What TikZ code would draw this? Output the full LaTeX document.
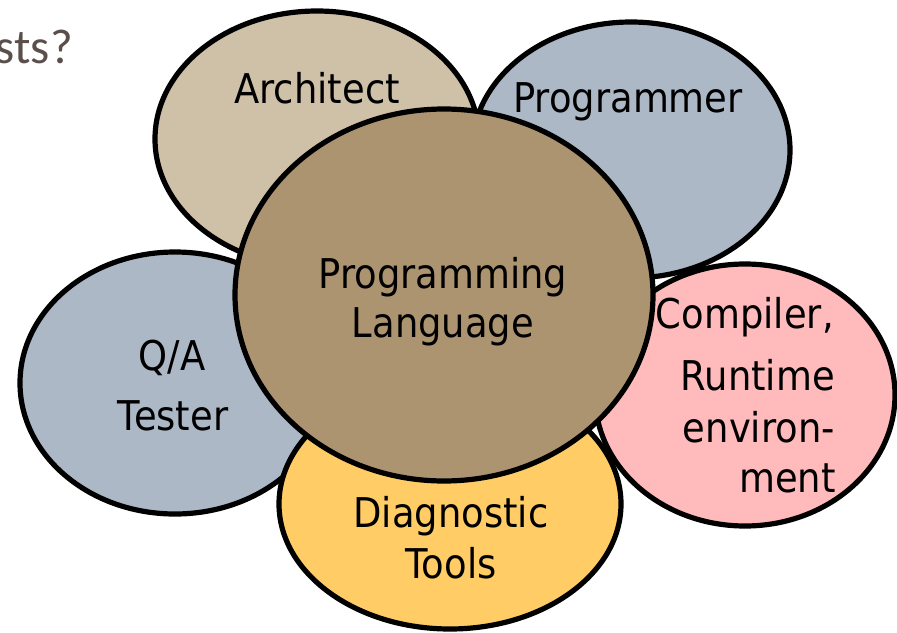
\documentclass[tikz,border=0pt]{standalone}
\usepackage{fontspec}
\usetikzlibrary{shapes.geometric}
\newfontfamily\labfont[FakeStretch=0.9]{DejaVu Sans}
\newfontfamily\titfont{Carlito}
\definecolor{archc}{HTML}{CFC0A8}
\definecolor{progc}{HTML}{ADB8C6}
\definecolor{plc}{HTML}{AD9470}
\definecolor{compc}{HTML}{FFBBBB}
\definecolor{diagc}{HTML}{FFCC66}
\definecolor{titc}{HTML}{5A4F4B}
\tikzset{
  blob/.style={ellipse, draw=black, line width=5.2pt, inner sep=0pt},
  lab/.style={font=\labfont\fontsize{41}{48}\selectfont, inner sep=0pt, anchor=base},
  labr/.style={lab, anchor=base east}
}
\begin{document}
\begin{tikzpicture}[x=1pt,y=-1pt]
\useasboundingbox (0,0) rectangle (897,632);
\node[font=\titfont\fontsize{49}{55}\selectfont, text=titc, inner sep=0pt, anchor=base east] (tit) at (73,63) {sts?};
\node[blob, fill=archc, minimum width=324pt, minimum height=256pt] (arch) at (317,139) {};
\node[blob, fill=progc, minimum width=318pt, minimum height=256pt] (prog) at (631,150) {};
\node[blob, fill=progc, minimum width=310pt, minimum height=262pt] (qa) at (175,383) {};
\node[blob, fill=compc, minimum width=300pt, minimum height=262pt] (comp) at (745,395) {};
\node[blob, fill=diagc, minimum width=342pt, minimum height=250pt] (diag) at (450,504) {};
\node[blob, fill=plc, minimum width=418pt, minimum height=372pt] (pl) at (444,295) {};
\node[lab] (tarch) at (317,103) {Architect};
\node[lab] (tprog) at (628,112) {Programmer};
\node[lab] (tpl1) at (443,288) {Programming};
\node[lab] (tpl2) at (443,337) {Language};
\node[lab] (tqa1) at (172,370) {Q/A};
\node[lab] (tqa2) at (173,430) {Tester};
\node[labr] (tc1) at (834,328) {Compiler,};
\node[labr] (tc2) at (835,390) {Runtime};
\node[labr] (tc3) at (835,442) {environ-};
\node[labr] (tc4) at (836,492) {ment};
\node[lab] (td1) at (451,527) {Diagnostic};
\node[lab] (td2) at (451,578) {Tools};
\end{tikzpicture}
\end{document}
